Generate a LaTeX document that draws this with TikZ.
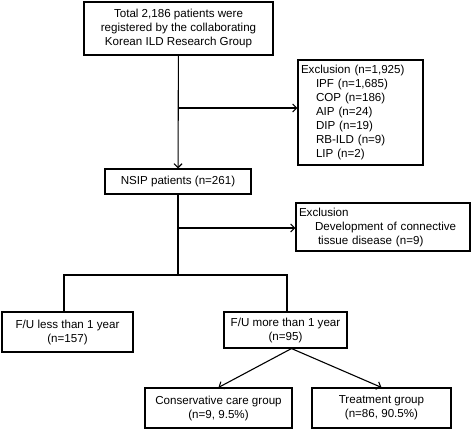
\documentclass[tikz,border=0pt]{standalone}
\usepackage{fontspec}
\setmainfont{Liberation Sans}
\usetikzlibrary{arrows.meta, positioning, calc}

\begin{document}
\begin{tikzpicture}[x=1pt, y=-1pt,
            box/.style={draw=black, line width=1.1pt, inner sep=2pt, align=center,
                        font=\fontsize{11.6}{14}\selectfont},
            ln/.style={draw=black, line width=1.1pt},
            arr/.style={ln, -{Straight Barb[length=4pt, width=8pt]}}]
            \useasboundingbox (0,0) rectangle (472,431);
            % boxes
            \node[box, minimum width=189pt, minimum height=53pt] (total) at (178.5,28.5)
                {Total 2,186 patients were\\registered by the collaborating\\Korean ILD Research Group};
            \node[box, minimum width=125pt, minimum height=105pt, align=left, text width=119pt] (excl1) at (360.5,112.5)
                {Exclusion (n=1,925)\\\hspace*{15pt}IPF (n=1,685)\\\hspace*{15pt}COP (n=186)\\\hspace*{15pt}AIP (n=24)\\
                 \hspace*{15pt}DIP (n=19)\\\hspace*{15pt}RB-ILD (n=9)\\\hspace*{15pt}LIP (n=2)};
            \node[box, minimum width=146pt, minimum height=25pt] (nsip) at (178,181.5) {NSIP patients (n=261)};
            \node[box, minimum width=174pt, minimum height=48pt, align=left, text width=168pt] (excl2) at (383,227)
                {Exclusion\\\hspace*{16pt}Development of connective\\\hspace*{19pt}tissue disease (n=9)};
            \node[box, minimum width=131pt, minimum height=40pt] (fuless) at (67.5,332) {F/U less than  1 year\\(n=157)};
            \node[box, minimum width=123pt, minimum height=36pt] (fumore) at (285.5,330) {F/U more than 1 year\\(n=95)};
            \node[box, minimum width=147pt, minimum height=40pt] (cons) at (218.5,408) {Conservative care group\\(n=9, 9.5\%)};
            \node[box, minimum width=139pt, minimum height=40pt] (treat) at (381.5,408) {Treatment group\\(n=86, 90.5\%)};
            % connectors
            \coordinate (j1) at (178.5,108);
            \coordinate (j2) at (178,228);
            \coordinate (split) at (178,275);
            \coordinate (bl) at (64,275);
            \coordinate (br) at (287,275);
            \draw[arr] (total) -- (nsip);
            \draw[arr] (j1) -- (j1 -| excl1.west);
            \draw[arr] (j2) -- (j2 -| excl2.west);
            \draw[ln] (nsip) -- (split);
            \draw[ln] (bl |- fuless.north) -- (bl) -- (br) -- (br |- fumore.north);
            \draw[arr] ([xshift=6pt]fumore.south) -- (cons.north);
            \draw[arr] ([xshift=6pt]fumore.south) -- (treat.north);
        \end{tikzpicture}
\end{document}
